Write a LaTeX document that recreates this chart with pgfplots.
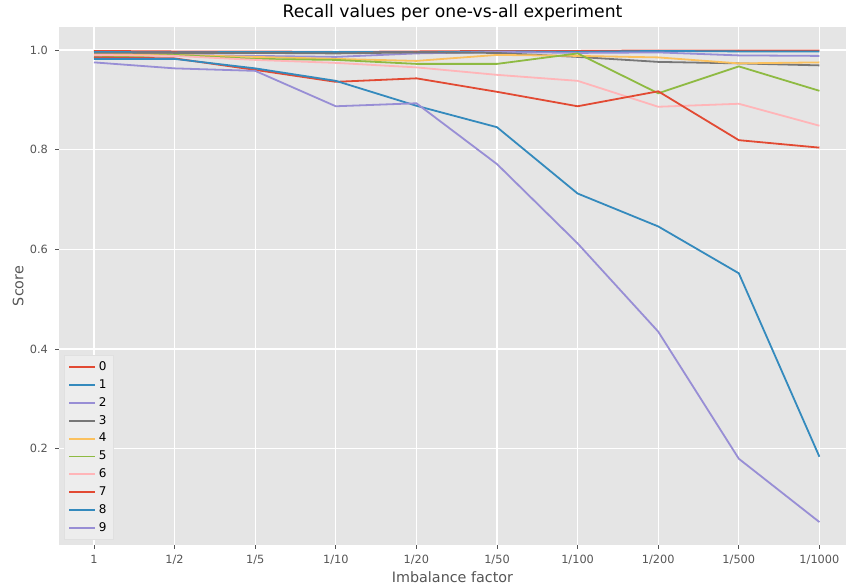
\documentclass[border=0pt]{standalone}
\usepackage{fontspec}
\setmainfont{DejaVu Sans}
\usepackage{pgfplots}
\pgfplotsset{compat=1.18}

\definecolor{bgc}{HTML}{E5E5E5}
\definecolor{txtc}{HTML}{555555}
\definecolor{c0}{HTML}{E24A33}
\definecolor{c1}{HTML}{348ABD}
\definecolor{c2}{HTML}{988ED5}
\definecolor{c3}{HTML}{777777}
\definecolor{c4}{HTML}{FBC15E}
\definecolor{c5}{HTML}{8EBA42}
\definecolor{c6}{HTML}{FFB5B8}

\pgfplotsset{
  every axis plot/.append style={line width=1.35pt, mark=none},
  legend image code/.code={\draw[#1] (0pt,0pt) -- (19.5pt,0pt);},
}

\begin{document}
\begin{tikzpicture}
\useasboundingbox (-44.25pt,-32.25pt) rectangle (590.25pt,408.75pt);
\begin{axis}[
  at={(0,0)}, anchor=south west,
  scale only axis,
  width=590.25pt, height=388.5pt,
  xmin=-0.434, xmax=9.33,
  ymin=0.007, ymax=1.046,
  axis background/.style={fill=bgc},
  axis line style={draw=none},
  grid=major,
  major grid style={white, line width=0.9pt},
  tick pos=left,
  tick align=outside,
  major tick length=2.8pt,
  major tick style={draw=txtc, line width=0.6pt},
  xtick={0,...,9},
  xticklabels={1,1/2,1/5,1/10,1/20,1/50,1/100,1/200,1/500,1/1000},
  ytick={0.2,0.4,0.6,0.8,1.0},
  yticklabel style={/pgf/number format/fixed, /pgf/number format/fixed zerofill, /pgf/number format/precision=1, xshift=-2pt},
  /pgf/number format/assume math mode=true,
  ticklabel style={font=\fontsize{8.5}{10}\selectfont, text=txtc},
  xticklabel style={yshift=-1pt},
  title={Recall values per one-vs-all experiment},
  title style={at={(axis description cs:0.5,1.0116)}, anchor=center, font=\fontsize{12.9}{14}\selectfont},
  xlabel={Imbalance factor},
  xlabel style={at={(axis description cs:0.5,-0.0618)}, anchor=center, font=\fontsize{10.75}{12}\selectfont, text=txtc},
  ylabel={Score},
  ylabel style={at={(axis description cs:-0.052,0.5)}, anchor=center, font=\fontsize{10.75}{12}\selectfont, text=txtc},
  legend style={at={(axis description cs:0.0065,0.01)}, anchor=south west,
    fill=bgc!70!white, draw=black!12,
    font=\fontsize{9}{10}\selectfont,
    nodes={text height=7pt, text depth=2pt, inner ysep=2.2pt, anchor=west},
    inner xsep=3pt, inner ysep=2pt},
]
% class 0
\addplot[c0] coordinates {(0,0.998)(1,0.997)(2,0.997)(3,0.996)(4,0.997)(5,0.998)(6,0.998)(7,0.999)(8,0.999)(9,0.999)};
\addlegendentry{0}
% class 1
\addplot[c1] coordinates {(0,0.996)(1,0.995)(2,0.996)(3,0.996)(4,0.995)(5,0.997)(6,0.996)(7,0.998)(8,0.997)(9,0.997)};
\addlegendentry{1}
% class 2
\addplot[c2] coordinates {(0,0.988)(1,0.990)(2,0.988)(3,0.986)(4,0.993)(5,0.996)(6,0.994)(7,0.995)(8,0.989)(9,0.988)};
\addlegendentry{2}
% class 3
\addplot[c3] coordinates {(0,0.993)(1,0.994)(2,0.994)(3,0.993)(4,0.995)(5,0.994)(6,0.986)(7,0.976)(8,0.973)(9,0.969)};
\addlegendentry{3}
% class 4
\addplot[c4] coordinates {(0,0.991)(1,0.990)(2,0.986)(3,0.982)(4,0.978)(5,0.990)(6,0.988)(7,0.985)(8,0.973)(9,0.975)};
\addlegendentry{4}
% class 5
\addplot[c5] coordinates {(0,0.985)(1,0.990)(2,0.982)(3,0.980)(4,0.972)(5,0.972)(6,0.993)(7,0.913)(8,0.967)(9,0.918)};
\addlegendentry{5}
% class 6
\addplot[c6] coordinates {(0,0.990)(1,0.988)(2,0.980)(3,0.974)(4,0.965)(5,0.950)(6,0.938)(7,0.886)(8,0.892)(9,0.848)};
\addlegendentry{6}
% class 7
\addplot[c0] coordinates {(0,0.985)(1,0.983)(2,0.960)(3,0.936)(4,0.943)(5,0.916)(6,0.887)(7,0.917)(8,0.819)(9,0.804)};
\addlegendentry{7}
% class 8
\addplot[c1] coordinates {(0,0.982)(1,0.982)(2,0.963)(3,0.938)(4,0.888)(5,0.845)(6,0.712)(7,0.646)(8,0.552)(9,0.184)};
\addlegendentry{8}
% class 9
\addplot[c2] coordinates {(0,0.975)(1,0.963)(2,0.958)(3,0.887)(4,0.893)(5,0.771)(6,0.612)(7,0.435)(8,0.180)(9,0.053)};
\addlegendentry{9}
\end{axis}
\end{tikzpicture}
\end{document}
